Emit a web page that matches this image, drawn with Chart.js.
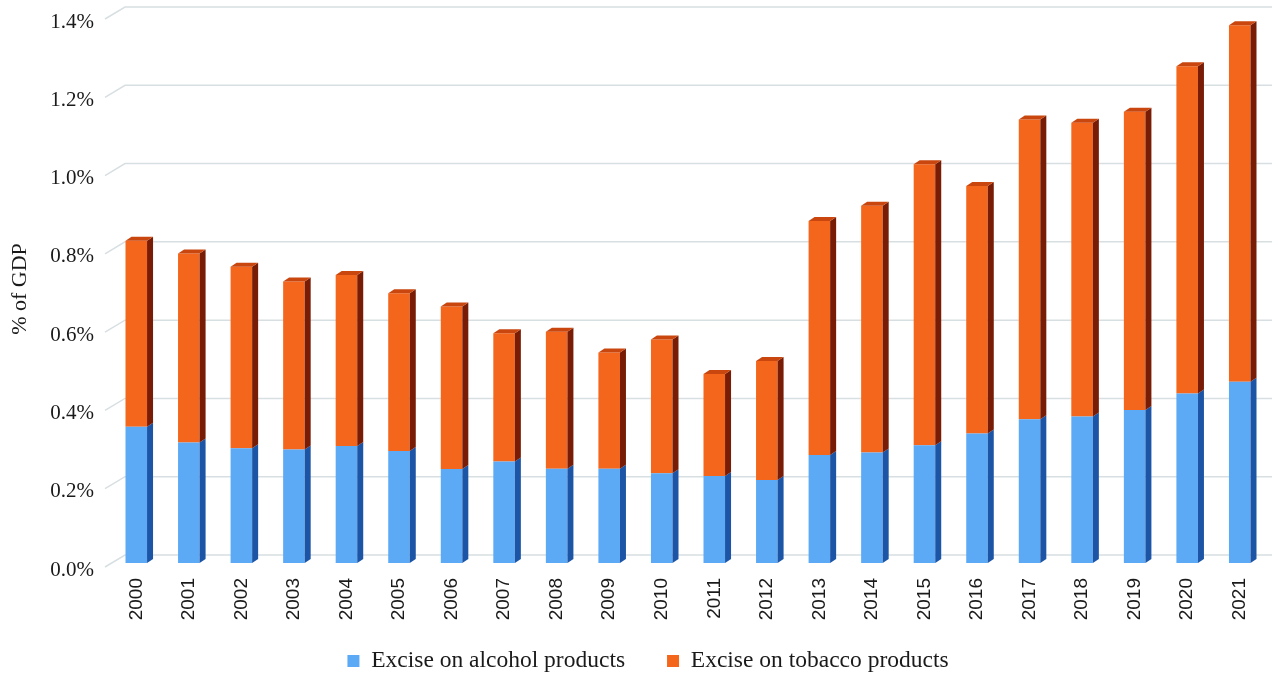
<!DOCTYPE html>
<html>
<head>
<meta charset="utf-8">
<script src="https://cdn.jsdelivr.net/npm/chart.js@4.4.1/dist/chart.umd.min.js"></script>
<style>
  html, body { margin: 0; padding: 0; background: #ffffff; }
  #wrap { width: 1278px; height: 675px; }
</style>
</head>
<body>
<div id="wrap"><canvas id="c" width="1278" height="675"></canvas></div>
<script>
// Excise revenue as a share of GDP, by year
const years = ['2000','2001','2002','2003','2004','2005','2006','2007','2008','2009','2010',
               '2011','2012','2013','2014','2015','2016','2017','2018','2019','2020','2021'];
const alcohol = [0.348, 0.308, 0.293, 0.290, 0.299, 0.286, 0.240, 0.259, 0.241, 0.241, 0.229,
                 0.222, 0.212, 0.276, 0.282, 0.301, 0.331, 0.367, 0.374, 0.391, 0.433, 0.463];
const tobacco = [0.475, 0.483, 0.464, 0.429, 0.437, 0.403, 0.415, 0.328, 0.350, 0.297, 0.342,
                 0.261, 0.304, 0.598, 0.631, 0.718, 0.632, 0.766, 0.751, 0.762, 0.836, 0.911];
const yTicks = [0, 0.2, 0.4, 0.6, 0.8, 1.0, 1.2, 1.4];
const seriesNames = ['Excise on alcohol products', 'Excise on tobacco products'];
const yTitle = '% of GDP';

// depth offset of the pseudo-3D columns
const DX = 6, DY = 4;

const bars3d = {
  id: 'bars3d',
  beforeDatasetsDraw(chart) {
    const { ctx, chartArea: a, scales: { y } } = chart;
    ctx.save();
    ctx.strokeStyle = '#d8dfe2';
    ctx.lineWidth = 1.5;
    y.ticks.forEach(t => {
      const py = y.getPixelForValue(t.value);
      ctx.beginPath();
      ctx.moveTo(a.left - 5, py + 4);
      ctx.lineTo(a.left + 15, py - 8);
      ctx.lineTo(a.right + 6, py - 8);
      ctx.stroke();
    });
    ctx.restore();
  },
  afterDatasetsDraw(chart) {
    const { ctx } = chart;
    const last = chart.data.datasets.length - 1;
    ctx.save();
    chart.data.datasets.forEach((ds, di) => {
      const meta = chart.getDatasetMeta(di);
      meta.data.forEach(bar => {
        const { x, y, base, width } = bar.getProps(['x', 'y', 'base', 'width'], true);
        const l = x - width / 2, r = x + width / 2;
        // side face
        ctx.fillStyle = ds.sideColor;
        ctx.beginPath();
        ctx.moveTo(r, base);
        ctx.lineTo(r + DX, base - DY);
        ctx.lineTo(r + DX, y - DY);
        ctx.lineTo(r, y);
        ctx.closePath();
        ctx.fill();
        // top face on the upper segment
        if (di === last) {
          ctx.fillStyle = ds.topColor;
          ctx.beginPath();
          ctx.moveTo(l, y);
          ctx.lineTo(l + DX, y - DY);
          ctx.lineTo(r + DX, y - DY);
          ctx.lineTo(r, y);
          ctx.closePath();
          ctx.fill();
        }
      });
    });
    ctx.restore();
  }
};

// legend row: centred under the plot with its text midline at y = 661
const legendPlacement = {
  id: 'legendPlacement',
  afterLayout(chart) {
    const lg = chart.legend;
    if (!lg) return;
    const pad = lg.options.labels.padding;
    const size = lg.options.labels.font.size;
    const dx = 648 - (lg.left + lg.right) / 2;
    lg.left += dx; lg.right += dx;
    lg.top = 661 - pad - size / 2;
    lg.bottom = chart.height;
    lg.height = lg.bottom - lg.top;
  }
};

new Chart(document.getElementById('c'), {
  type: 'bar',
  data: {
    labels: years,
    datasets: [
      { label: seriesNames[0], data: alcohol, backgroundColor: '#5caaf5',
        sideColor: '#1c55a6', topColor: '#3f8fe0' },
      { label: seriesNames[1], data: tobacco, backgroundColor: '#f3661b',
        sideColor: '#781c05', topColor: '#c9470f' }
    ]
  },
  options: {
    responsive: false,
    animation: false,
    devicePixelRatio: 1,
    layout: { padding: { top: 15, right: 12, bottom: 0, left: 0 } },
    datasets: { bar: { categoryPercentage: 1, barPercentage: 0.41, borderWidth: 0 } },
    scales: {
      x: {
        stacked: true,
        grid: { display: false, drawTicks: false },
        border: { display: false },
        ticks: {
          minRotation: 90, maxRotation: 90, padding: 15, autoSkip: false,
          color: '#1a1a1a',
          font: { family: 'Liberation Sans', size: 19 }
        },
        afterFit(s) { s.height = 62; s.paddingLeft = 0; s.paddingRight = 0; }
      },
      y: {
        stacked: true,
        min: 0, max: 1.4,
        afterBuildTicks(s) { s.ticks = yTicks.map(v => ({ value: v })); },
        grid: { display: false, drawTicks: false },
        border: { display: false },
        ticks: {
          padding: 16, labelOffset: 7,
          color: '#1a1a1a',
          font: { family: 'Liberation Serif', size: 21 },
          callback: v => v.toFixed(1) + '%'
        },
        title: {
          display: true, text: yTitle, color: '#1a1a1a',
          font: { family: 'Liberation Serif', size: 22 },
          padding: { top: 7, bottom: 0 }
        },
        afterFit(s) { s.width = 110; s.paddingTop = 0; s.paddingBottom = 0; }
      }
    },
    plugins: {
      legend: {
        position: 'bottom',
        maxHeight: 50,
        labels: {
          boxWidth: 12, boxHeight: 12, padding: 42,
          color: '#1a1a1a',
          font: { family: 'Liberation Serif', size: 23.5 }
        }
      },
      tooltip: { enabled: false }
    }
  },
  plugins: [bars3d, legendPlacement]
});
</script>
</body>
</html>
